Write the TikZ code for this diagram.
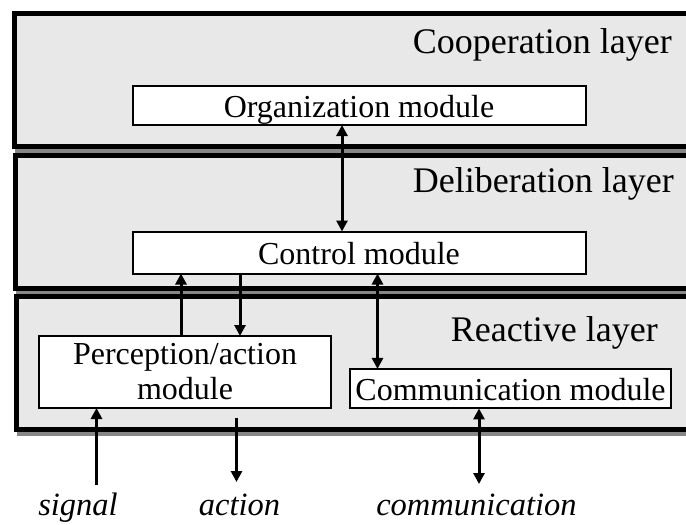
\documentclass[tikz,border=0pt]{standalone}
\usepackage{fontspec}
\setmainfont{Liberation Serif}
\usetikzlibrary{arrows.meta}
\definecolor{layerfill}{RGB}{232,232,232}
\definecolor{layershadow}{RGB}{135,135,135}
\begin{document}
\begin{tikzpicture}[x=1pt,y=-1pt,
  >={Triangle[width=11pt,length=11pt]},
  layer/.style={draw=black, line width=5pt, fill=layerfill},
  layershade/.style={draw=layershadow, fill=layershadow, line width=5pt},
  modbox/.style={draw=black, fill=white, line width=2pt, inner sep=0pt, outer sep=0pt,
                 font=\fontsize{32}{35}\selectfont},
  oneline/.style={text height=23pt, text depth=0pt},
  layerlabel/.style={anchor=base east, inner sep=0pt, font=\fontsize{36}{40}\selectfont},
  iolabel/.style={anchor=base, inner sep=0pt, font=\fontsize{32.5}{36}\selectfont\itshape},
  flow/.style={line width=3pt, ->},
  flow2/.style={line width=3pt, <->}]
\useasboundingbox (0,0) rectangle (686,525);
\clip (0,0) rectangle (686,525);

% the three layers, each with a grey drop shadow
\draw[layershade] (17.5,17.5) rectangle (720,150.5);
\draw[layer] (14.5,13.5) rectangle (720,146.5);
\draw[layershade] (18,159) rectangle (720,292);
\draw[layer] (15,155) rectangle (720,288);
\draw[layershade] (19.5,300.5) rectangle (720,433);
\draw[layer] (16.5,296.5) rectangle (720,429);

% layer titles
\node[layerlabel] (coopl) at (672,53.5) {Cooperation layer};
\node[layerlabel] (delibl) at (674,192.3) {Deliberation layer};
\node[layerlabel] (reactl) at (658,341.7) {Reactive layer};

% modules
\node[modbox, oneline, minimum width=453pt, minimum height=39pt] (org) at (359,105.5) {Organization module};
\node[modbox, oneline, minimum width=453pt, minimum height=42pt] (ctl) at (359,252.5) {Control module};
\node[modbox, align=center, minimum width=292pt, minimum height=72pt] (per) at (185,372) {Perception/action\\module};
\node[modbox, oneline, minimum width=321pt, minimum height=39.5pt] (com) at (510.5,388.7) {Communication module};

% columns of the connectors
\coordinate (xa) at (342,0);
\coordinate (xb) at (181,0);
\coordinate (xc) at (240,0);
\coordinate (xd) at (377.5,0);
\coordinate (sigend) at (96.5,485);
\coordinate (actend) at (236.5,482);
\coordinate (comend) at (479,484);

% connectors between modules
\draw[flow2] (org.south -| xa) -- (ctl.north -| xa);
\draw[flow] (per.north -| xb) -- (ctl.south -| xb);
\draw[flow] (ctl.south -| xc) -- (per.north -| xc);
\draw[flow2] (ctl.south -| xd) -- (com.north -| xd);

% inputs and outputs
\draw[flow] (sigend) -- (per.south -| sigend);
\draw[flow, shorten <=9.5pt] (per.south -| actend) -- (actend);
\draw[flow2] (com.south -| comend) -- (comend);

\node[iolabel] (sig) at (78,515) {signal};
\node[iolabel] (act) at (239.5,515) {action};
\node[iolabel] (cmm) at (476.5,515) {communication};
\end{tikzpicture}
\end{document}
